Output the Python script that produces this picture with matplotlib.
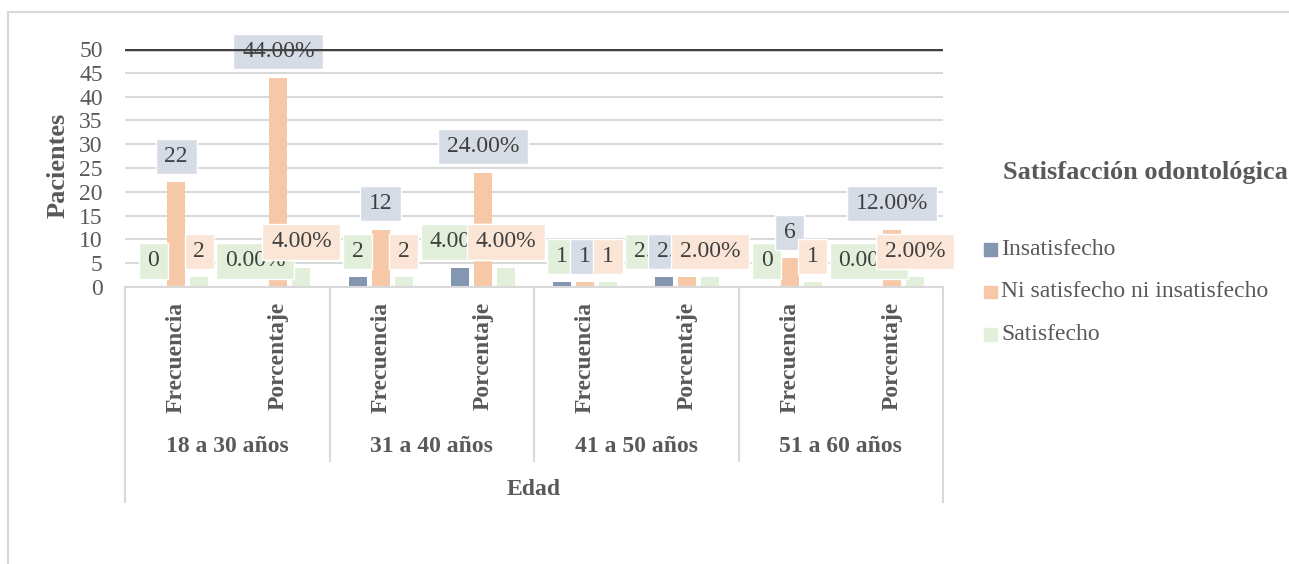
import matplotlib.pyplot as plt
from matplotlib.patches import Rectangle
from matplotlib.path import Path

plt.rcParams['font.family'] = ['Liberation Serif', 'DejaVu Serif']

# datos de la tabla: cuatro grupos de edad, frecuencia y porcentaje
grupos = ['18 a 30 años', '31 a 40 años', '41 a 50 años', '51 a 60 años']
medidas = ['Frecuencia', 'Porcentaje']
series = ['Insatisfecho', 'Ni satisfecho ni insatisfecho', 'Satisfecho']
insatisfecho = [0, 0, 2, 4, 1, 2, 0, 0]
ni_sat_ni_insat = [22, 44, 12, 24, 1, 2, 6, 12]
satisfecho = [2, 4, 2, 4, 1, 2, 1, 2]

colores = ['#8497B0', '#F6C8A8', '#E2EFDA']
colores_etiqueta = ['#E2EFDA', '#D6DCE5', '#FBE5D6']
gris = '#595959'
texto = '#404040'
FS = 17


def caja(x0, y0, width, height, mutation_size):
    # caja rectangular con mas margen horizontal que vertical
    px, py = 0.37 * mutation_size, 0.30 * mutation_size
    x0, y0 = x0 - px, y0 - py
    x1, y1 = x0 + width + 2 * px, y0 + height + 2 * py
    return Path([(x0, y0), (x1, y0), (x1, y1), (x0, y1), (x0, y0)], closed=True)


fig = plt.figure(figsize=(12.89, 5.64), dpi=100)
W, H = 1289, 564
ax = fig.add_axes([125 / W, 1 - 287 / H, 818 / W, 238 / H])

n = len(grupos) * len(medidas)
centros = [i + 0.5 for i in range(n)]
ancho = 0.176
sep = 0.225
valores = [insatisfecho, ni_sat_ni_insat, satisfecho]

for k, vals in enumerate(valores):
    xs = [c + (k - 1) * sep for c in centros]
    ax.bar(xs, vals, width=ancho, color=colores[k], zorder=2, label=series[k])

# etiquetas de datos, una serie despues de otra
for k, vals in enumerate(valores):
    for i, v in enumerate(vals):
        x = centros[i] + (k - 1) * sep
        s = str(v) if i % 2 == 0 else '%.2f%%' % v
        ax.annotate(s, xy=(x, v), xytext=(0, 15.5), textcoords='offset pixels',
                    ha='center', va='bottom', fontsize=FS, color=texto, zorder=3,
                    bbox=dict(boxstyle=caja, fc=colores_etiqueta[k], ec='white', lw=1))

ax.set_xlim(0, n)
ax.set_ylim(0, 50)
ax.set_yticks(range(0, 51, 5))
ax.set_xticks([])
ax.tick_params(axis='y', length=0, pad=16, labelsize=FS, labelcolor=gris)
ax.grid(axis='y', color='#D9D9D9', lw=1.5)
ax.set_axisbelow(True)
ax.axhline(50, color='#404040', lw=2.5, zorder=5)
for lado in ['left', 'right', 'top']:
    ax.spines[lado].set_visible(False)
ax.spines['bottom'].set_color('#D9D9D9')
ax.spines['bottom'].set_linewidth(1.5)

# eje de categorias en dos niveles
tr = ax.get_xaxis_transform()
for i, c in enumerate(centros):
    ax.text(c, -0.063, medidas[i % 2], transform=tr, rotation=90, ha='center',
            va='top', fontsize=FS, fontweight='bold', color=gris)
for g, nombre in enumerate(grupos):
    ax.text(2 * g + 1, -0.671, nombre, transform=tr, ha='center', va='center',
            fontsize=FS, fontweight='bold', color=gris)
for g in range(len(grupos) + 1):
    fondo = -0.903 if g in (0, len(grupos)) else -0.731
    ax.plot([2 * g, 2 * g], [0, fondo], transform=tr, color='#D9D9D9', lw=1.5,
            clip_on=False)
ax.text(n / 2, -0.849, 'Edad', transform=tr, ha='center', va='center',
        fontsize=FS, fontweight='bold', color=gris)

fig.text(58 / W, 1 - 165 / H, 'Pacientes', rotation=90, ha='center', va='center',
         fontsize=19, fontweight='bold', color=gris)

# leyenda
fig.text(1003 / W, 1 - 172 / H, 'Satisfacción odontológica', ha='left', va='center',
         fontsize=19, fontweight='bold', color=gris)
for k, nombre in enumerate(series):
    yc = 249.5 + k * 42.4
    fig.add_artist(Rectangle((984 / W, 1 - (yc + 6.3) / H), 12.7 / W, 12.7 / H,
                             transform=fig.transFigure, color=colores[k]))
    fig.text(1001 / W, 1 - yc / H, nombre, ha='left', va='center',
             fontsize=FS, color=gris)

# marco del grafico
fig.add_artist(Rectangle((8 / W, -0.5), 2, 1 - 12 / H + 0.5, transform=fig.transFigure,
                         fill=False, ec='#D9D9D9', lw=1.5))

fig.savefig('out.png', dpi=100)
